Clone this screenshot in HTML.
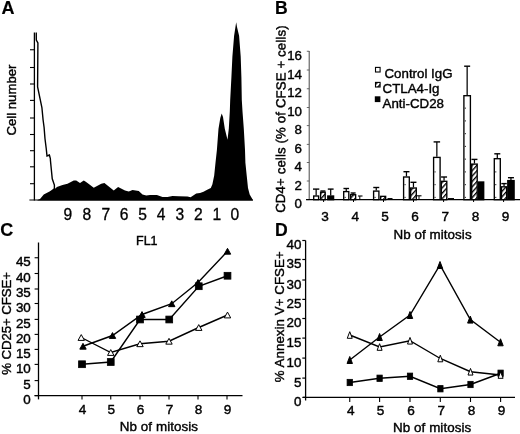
<!DOCTYPE html>
<html><head><meta charset="utf-8"><title>Figure</title>
<style>
html,body{margin:0;padding:0;background:#fff;}
svg{display:block;}
text{font-family:"Liberation Sans", Arial, Helvetica, sans-serif;fill:#000;stroke:#000;stroke-width:0.4px;}
</style></head><body>
<svg width="520" height="434" viewBox="0 0 520 434">
<defs><pattern id="hatch" width="3.6" height="3.6" patternUnits="userSpaceOnUse" patternTransform="rotate(-48)"><rect width="3.6" height="3.6" fill="#fff"/><rect width="3.6" height="1.35" fill="#000"/></pattern></defs>
<rect width="520" height="434" fill="#fff"/>
<!-- Panel A -->
<text x="1.5" y="13.9" font-size="18" text-anchor="start" font-weight="bold" style="stroke-width:0.15px">A</text>
<text x="15.6" y="135.6" font-size="13.2" text-anchor="start" font-weight="normal" transform="rotate(-90 15.6 135.6)">Cell number</text>
<line x1="34.4" y1="32.5" x2="34.4" y2="200.5" stroke="#000" stroke-width="1.3"/>
<line x1="30" y1="49.75" x2="34.4" y2="49.75" stroke="#000" stroke-width="1.1"/>
<line x1="30" y1="67.5" x2="34.4" y2="67.5" stroke="#000" stroke-width="1.1"/>
<line x1="30" y1="84" x2="34.4" y2="84" stroke="#000" stroke-width="1.1"/>
<line x1="30" y1="100.4" x2="34.4" y2="100.4" stroke="#000" stroke-width="1.1"/>
<line x1="30" y1="118" x2="34.4" y2="118" stroke="#000" stroke-width="1.1"/>
<line x1="30" y1="134.5" x2="34.4" y2="134.5" stroke="#000" stroke-width="1.1"/>
<line x1="30" y1="150.7" x2="34.4" y2="150.7" stroke="#000" stroke-width="1.1"/>
<line x1="30" y1="166.8" x2="34.4" y2="166.8" stroke="#000" stroke-width="1.1"/>
<line x1="30" y1="183.7" x2="34.4" y2="183.7" stroke="#000" stroke-width="1.1"/>
<line x1="29.4" y1="200" x2="253" y2="200" stroke="#000" stroke-width="1"/>
<polyline fill="none" stroke="#000" stroke-width="1.4" points="36.25,32.5 36.3,40 37.9,43 37.6,87 41.9,107.5 43.1,120 44.1,127.5 45,138.75 46.25,148.75 47,156 49.4,155 50.4,158.75 50.4,160 51.25,168.75 52.25,178.75 54.4,185 54.4,189"/>
<polygon fill="#000" points="37.5,200 40,199 43.75,194.4 50,191.25 54.4,188 55.5,188.6 56.9,186.9 62.5,185 67.5,183.75 73.75,180.4 76.25,180.5 80,183 83.75,180.6 85,181.25 87.5,183 93.75,187.75 101.25,183.75 104.4,183.1 113.75,190.6 118.1,186.9 125,190.6 128.75,191.5 132.5,190 138.75,191 142.5,194.4 146.25,195.6 150,195 156.9,195 162.5,197.1 167.5,197.1 172.5,195.9 178.75,196.25 187.5,196.6 190.6,197.25 196.25,193.5 200,193.0 203.5,191.8 207.2,189.7 210.8,188 212.4,184.25 214.2,175.4 215.5,162.7 216.9,150 218.5,128.8 220.3,118 221.7,113.6 223,117 224.8,128.8 227.5,139.8 228.8,128.8 229.8,111.5 230.2,100 231.4,77.2 232.4,56.5 234.1,35.7 235.6,26 236.2,22.2 237,27 239.1,35.7 240.7,56.5 241.4,77.2 241.8,100 242.5,111.5 243.8,128.8 245,150 245.4,162.7 246.7,175.4 248,188 249.7,194.4 252.6,199.5 253,200.4 37.5,200.4"/>
<text x="67.8" y="219.9" font-size="15.6" text-anchor="middle" font-weight="normal" style="stroke-width:0.3px">9</text>
<text x="86.9" y="219.9" font-size="15.6" text-anchor="middle" font-weight="normal" style="stroke-width:0.3px">8</text>
<text x="105.8" y="219.9" font-size="15.6" text-anchor="middle" font-weight="normal" style="stroke-width:0.3px">7</text>
<text x="124.2" y="219.9" font-size="15.6" text-anchor="middle" font-weight="normal" style="stroke-width:0.3px">6</text>
<text x="142.7" y="219.9" font-size="15.6" text-anchor="middle" font-weight="normal" style="stroke-width:0.3px">5</text>
<text x="161.0" y="219.9" font-size="15.6" text-anchor="middle" font-weight="normal" style="stroke-width:0.3px">4</text>
<text x="179.9" y="219.9" font-size="15.6" text-anchor="middle" font-weight="normal" style="stroke-width:0.3px">3</text>
<text x="198.4" y="219.9" font-size="15.6" text-anchor="middle" font-weight="normal" style="stroke-width:0.3px">2</text>
<text x="216.9" y="219.9" font-size="15.6" text-anchor="middle" font-weight="normal" style="stroke-width:0.3px">1</text>
<text x="234.8" y="219.9" font-size="15.6" text-anchor="middle" font-weight="normal" style="stroke-width:0.3px">0</text>
<!-- Panel B -->
<text x="275.0" y="13.8" font-size="17.6" text-anchor="start" font-weight="bold" style="stroke-width:0.15px">B</text>
<text x="285.0" y="212.8" font-size="13.2" text-anchor="start" font-weight="normal" transform="rotate(-89.8 285.0 212.8)" textLength="187.4">CD4+ cells (% of CFSE + cells)</text>
<line x1="309.2" y1="51" x2="309.2" y2="199.4" stroke="#333" stroke-width="0.9"/>
<line x1="306.8" y1="51.25" x2="309.2" y2="51.25" stroke="#444" stroke-width="0.8"/>
<text x="302.0" y="59.95" font-size="13.3" text-anchor="end" font-weight="normal">16</text>
<line x1="306.8" y1="70" x2="309.2" y2="70" stroke="#444" stroke-width="0.8"/>
<text x="302.0" y="78.7" font-size="13.3" text-anchor="end" font-weight="normal">14</text>
<line x1="306.8" y1="88.75" x2="309.2" y2="88.75" stroke="#444" stroke-width="0.8"/>
<text x="302.0" y="97.45" font-size="13.3" text-anchor="end" font-weight="normal">12</text>
<line x1="306.8" y1="107.5" x2="309.2" y2="107.5" stroke="#444" stroke-width="0.8"/>
<text x="302.0" y="116.2" font-size="13.3" text-anchor="end" font-weight="normal">10</text>
<line x1="306.8" y1="125.6" x2="309.2" y2="125.6" stroke="#444" stroke-width="0.8"/>
<text x="302.0" y="134.29999999999998" font-size="13.3" text-anchor="end" font-weight="normal">8</text>
<line x1="306.8" y1="144.4" x2="309.2" y2="144.4" stroke="#444" stroke-width="0.8"/>
<text x="302.0" y="153.1" font-size="13.3" text-anchor="end" font-weight="normal">6</text>
<line x1="306.8" y1="162.5" x2="309.2" y2="162.5" stroke="#444" stroke-width="0.8"/>
<text x="302.0" y="171.2" font-size="13.3" text-anchor="end" font-weight="normal">4</text>
<line x1="306.8" y1="181" x2="309.2" y2="181" stroke="#444" stroke-width="0.8"/>
<text x="302.0" y="189.7" font-size="13.3" text-anchor="end" font-weight="normal">2</text>
<line x1="306.8" y1="199.6" x2="309.2" y2="199.6" stroke="#444" stroke-width="0.8"/>
<text x="302.0" y="208.29999999999998" font-size="13.3" text-anchor="end" font-weight="normal">0</text>
<line x1="306" y1="199.7" x2="520" y2="199.7" stroke="#000" stroke-width="1.25"/>
<line x1="323.6" y1="199.7" x2="323.6" y2="202" stroke="#000" stroke-width="1"/>
<line x1="353.5" y1="199.7" x2="353.5" y2="202" stroke="#000" stroke-width="1"/>
<line x1="383.5" y1="199.7" x2="383.5" y2="202" stroke="#000" stroke-width="1"/>
<line x1="413.5" y1="199.7" x2="413.5" y2="202" stroke="#000" stroke-width="1"/>
<line x1="443.6" y1="199.7" x2="443.6" y2="202" stroke="#000" stroke-width="1"/>
<line x1="473.6" y1="199.7" x2="473.6" y2="202" stroke="#000" stroke-width="1"/>
<line x1="503.6" y1="199.7" x2="503.6" y2="202" stroke="#000" stroke-width="1"/>
<text x="325.0" y="220.9" font-size="13.6" text-anchor="middle" font-weight="normal">3</text>
<text x="355.2" y="220.9" font-size="13.6" text-anchor="middle" font-weight="normal">4</text>
<text x="385.0" y="220.9" font-size="13.6" text-anchor="middle" font-weight="normal">5</text>
<text x="415.1" y="220.9" font-size="13.6" text-anchor="middle" font-weight="normal">6</text>
<text x="445.2" y="220.9" font-size="13.6" text-anchor="middle" font-weight="normal">7</text>
<text x="475.6" y="220.9" font-size="13.6" text-anchor="middle" font-weight="normal">8</text>
<text x="505.6" y="220.9" font-size="13.6" text-anchor="middle" font-weight="normal">9</text>
<text x="393.4" y="238.6" font-size="13.4" text-anchor="start" font-weight="normal" textLength="78.2">Nb of mitosis</text>
<line x1="316.15" y1="189.1" x2="316.15" y2="195.4" stroke="#000" stroke-width="1.25"/>
<line x1="313.0" y1="189.1" x2="319.29999999999995" y2="189.1" stroke="#000" stroke-width="1.4"/>
<rect x="313.70000000000005" y="196.0" width="4.899999999999966" height="3.699999999999983" fill="#fff" stroke="#000" stroke-width="1.35"/>
<line x1="322.9" y1="191.0" x2="322.9" y2="191.6" stroke="#000" stroke-width="1.25"/>
<line x1="320.4" y1="191.0" x2="325.4" y2="191.0" stroke="#000" stroke-width="1.4"/>
<rect x="320.6" y="192.2" width="4.600000000000011" height="7.499999999999995" fill="url(#hatch)" stroke="#000" stroke-width="1.35"/>
<line x1="330.7" y1="189.1" x2="330.7" y2="195.4" stroke="#000" stroke-width="1.25"/>
<line x1="327.8" y1="189.1" x2="333.59999999999997" y2="189.1" stroke="#000" stroke-width="1.4"/>
<rect x="327.8" y="196.0" width="5.8" height="3.699999999999983" fill="#000" stroke="#000" stroke-width="1.35"/>
<line x1="346.25" y1="188.5" x2="346.25" y2="191" stroke="#000" stroke-width="1.25"/>
<line x1="343.45" y1="188.5" x2="349.05" y2="188.5" stroke="#000" stroke-width="1.4"/>
<rect x="343.70000000000005" y="191.6" width="5.099999999999954" height="8.099999999999989" fill="#fff" stroke="#000" stroke-width="1.35"/>
<rect x="344.6" y="196.85" width="1.1" height="1.1" fill="#222"/>
<line x1="353.125" y1="193" x2="353.125" y2="194.1" stroke="#000" stroke-width="1.25"/>
<line x1="350.625" y1="193" x2="355.625" y2="193" stroke="#000" stroke-width="1.4"/>
<rect x="350.6" y="194.7" width="5.05" height="4.999999999999995" fill="url(#hatch)" stroke="#000" stroke-width="1.35"/>
<line x1="359.8" y1="196" x2="359.8" y2="199.4" stroke="#000" stroke-width="1"/>
<line x1="358" y1="196" x2="362.5" y2="196" stroke="#000" stroke-width="1.1"/>
<line x1="376.25" y1="187.5" x2="376.25" y2="190.5" stroke="#000" stroke-width="1.25"/>
<line x1="373.25" y1="187.5" x2="379.25" y2="187.5" stroke="#000" stroke-width="1.4"/>
<rect x="373.6" y="191.1" width="5.3" height="8.599999999999989" fill="#fff" stroke="#000" stroke-width="1.35"/>
<rect x="374.5" y="196.85" width="1.1" height="1.1" fill="#222"/>
<rect x="380.6" y="196.35" width="5.05" height="3.3499999999999885" fill="url(#hatch)" stroke="#000" stroke-width="1.35"/>
<line x1="387.5" y1="198.6" x2="392.5" y2="198.6" stroke="#000" stroke-width="1.1"/>
<line x1="406.45" y1="171.7" x2="406.45" y2="176.4" stroke="#000" stroke-width="1.25"/>
<line x1="403.45" y1="171.7" x2="409.45" y2="171.7" stroke="#000" stroke-width="1.4"/>
<rect x="403.6" y="177.0" width="5.699999999999977" height="22.69999999999998" fill="#fff" stroke="#000" stroke-width="1.35"/>
<rect x="404.5" y="196.85" width="1.1" height="1.1" fill="#222"/>
<rect x="404.5" y="184.1" width="1.1" height="1.1" fill="#222"/>
<line x1="413.45" y1="182.3" x2="413.45" y2="187.4" stroke="#000" stroke-width="1.25"/>
<line x1="410.45" y1="182.3" x2="416.45" y2="182.3" stroke="#000" stroke-width="1.4"/>
<rect x="410.6" y="188.0" width="5.699999999999977" height="11.699999999999983" fill="url(#hatch)" stroke="#000" stroke-width="1.35"/>
<line x1="419" y1="195.8" x2="419" y2="199.4" stroke="#000" stroke-width="1"/>
<line x1="417" y1="195.8" x2="421.5" y2="195.8" stroke="#000" stroke-width="1.1"/>
<line x1="436.85" y1="141.9" x2="436.85" y2="156.8" stroke="#000" stroke-width="1.25"/>
<line x1="433.6" y1="141.9" x2="440.1" y2="141.9" stroke="#000" stroke-width="1.4"/>
<rect x="433.6" y="157.4" width="6.4999999999999885" height="42.299999999999976" fill="#fff" stroke="#000" stroke-width="1.35"/>
<rect x="434.5" y="196.85" width="1.1" height="1.1" fill="#222"/>
<rect x="434.5" y="184.1" width="1.1" height="1.1" fill="#222"/>
<rect x="434.5" y="171.35" width="1.1" height="1.1" fill="#222"/>
<line x1="444.04999999999995" y1="177" x2="444.04999999999995" y2="180.7" stroke="#000" stroke-width="1.25"/>
<line x1="441.04999999999995" y1="177" x2="447.04999999999995" y2="177" stroke="#000" stroke-width="1.4"/>
<rect x="441.3" y="181.29999999999998" width="5.4999999999999885" height="18.4" fill="url(#hatch)" stroke="#000" stroke-width="1.35"/>
<line x1="448" y1="198.6" x2="454" y2="198.6" stroke="#000" stroke-width="1.1"/>
<line x1="467.15" y1="66.2" x2="467.15" y2="95.1" stroke="#000" stroke-width="1.25"/>
<line x1="464.15" y1="66.2" x2="470.15" y2="66.2" stroke="#000" stroke-width="1.4"/>
<rect x="463.90000000000003" y="95.69999999999999" width="6.4999999999999885" height="104.0" fill="#fff" stroke="#000" stroke-width="1.35"/>
<rect x="464.8" y="196.85" width="1.1" height="1.1" fill="#222"/>
<rect x="464.8" y="184.1" width="1.1" height="1.1" fill="#222"/>
<rect x="464.8" y="171.35" width="1.1" height="1.1" fill="#222"/>
<rect x="464.8" y="158.6" width="1.1" height="1.1" fill="#222"/>
<rect x="464.8" y="145.85" width="1.1" height="1.1" fill="#222"/>
<rect x="464.8" y="133.1" width="1.1" height="1.1" fill="#222"/>
<rect x="464.8" y="120.35" width="1.1" height="1.1" fill="#222"/>
<rect x="464.8" y="107.6" width="1.1" height="1.1" fill="#222"/>
<line x1="474.45000000000005" y1="159.4" x2="474.45000000000005" y2="163.5" stroke="#000" stroke-width="1.25"/>
<line x1="471.45000000000005" y1="159.4" x2="477.45000000000005" y2="159.4" stroke="#000" stroke-width="1.4"/>
<rect x="471.70000000000005" y="164.1" width="5.4999999999999885" height="35.59999999999999" fill="url(#hatch)" stroke="#000" stroke-width="1.35"/>
<rect x="478.40000000000003" y="182.0" width="5.3" height="17.69999999999998" fill="#000" stroke="#000" stroke-width="1.35"/>
<line x1="497.29999999999995" y1="153.8" x2="497.29999999999995" y2="158.1" stroke="#000" stroke-width="1.25"/>
<line x1="494.29999999999995" y1="153.8" x2="500.29999999999995" y2="153.8" stroke="#000" stroke-width="1.4"/>
<rect x="494.3" y="158.7" width="5.9999999999999885" height="40.99999999999999" fill="#fff" stroke="#000" stroke-width="1.35"/>
<rect x="495.2" y="196.85" width="1.1" height="1.1" fill="#222"/>
<rect x="495.2" y="184.1" width="1.1" height="1.1" fill="#222"/>
<rect x="495.2" y="171.35" width="1.1" height="1.1" fill="#222"/>
<line x1="504.04999999999995" y1="183.6" x2="504.04999999999995" y2="186.2" stroke="#000" stroke-width="1.25"/>
<line x1="501.29999999999995" y1="183.6" x2="506.79999999999995" y2="183.6" stroke="#000" stroke-width="1.4"/>
<rect x="501.5" y="186.79999999999998" width="5.100000000000011" height="12.9" fill="url(#hatch)" stroke="#000" stroke-width="1.35"/>
<line x1="510.95000000000005" y1="177.7" x2="510.95000000000005" y2="180" stroke="#000" stroke-width="1.25"/>
<line x1="507.95000000000005" y1="177.7" x2="513.95" y2="177.7" stroke="#000" stroke-width="1.4"/>
<rect x="507.8" y="180.6" width="6.300000000000057" height="19.099999999999987" fill="#000" stroke="#000" stroke-width="1.35"/>
<rect x="375.5" y="67.4" width="4.6" height="4.6" fill="#fff" stroke="#000" stroke-width="1.1"/>
<rect x="375.5" y="82.4" width="4.6" height="4.6" fill="url(#hatch)" stroke="#000" stroke-width="1.1"/>
<rect x="374.8" y="96.3" width="5.6" height="5.8" fill="#000"/>
<text x="384.5" y="77.7" font-size="13.3" text-anchor="start" font-weight="normal">Control IgG</text>
<text x="382.6" y="93.1" font-size="13.3" text-anchor="start" font-weight="normal">CTLA4-Ig</text>
<text x="382.6" y="107.9" font-size="13.3" text-anchor="start" font-weight="normal">Anti-CD28</text>
<!-- Panel C -->
<text x="0.3" y="236.1" font-size="18" text-anchor="start" font-weight="bold" style="stroke-width:0.15px">C</text>
<text x="10.7" y="374.8" font-size="13.3" text-anchor="start" font-weight="normal" transform="rotate(-90 10.7 374.8)" textLength="102.8">% CD25+ CFSE+</text>
<line x1="38.5" y1="242.5" x2="38.5" y2="399.4" stroke="#000" stroke-width="1.3"/>
<line x1="34.6" y1="257.75" x2="38.5" y2="257.75" stroke="#000" stroke-width="1.1"/>
<text x="30.8" y="266.15" font-size="13.4" text-anchor="end" font-weight="normal">45</text>
<line x1="34.6" y1="273.5" x2="38.5" y2="273.5" stroke="#000" stroke-width="1.1"/>
<text x="30.8" y="281.9" font-size="13.4" text-anchor="end" font-weight="normal">40</text>
<line x1="34.6" y1="289" x2="38.5" y2="289" stroke="#000" stroke-width="1.1"/>
<text x="30.8" y="297.4" font-size="13.4" text-anchor="end" font-weight="normal">35</text>
<line x1="34.6" y1="303.5" x2="38.5" y2="303.5" stroke="#000" stroke-width="1.1"/>
<text x="30.8" y="311.9" font-size="13.4" text-anchor="end" font-weight="normal">30</text>
<line x1="34.6" y1="319.4" x2="38.5" y2="319.4" stroke="#000" stroke-width="1.1"/>
<text x="30.8" y="327.79999999999995" font-size="13.4" text-anchor="end" font-weight="normal">25</text>
<line x1="34.6" y1="334.4" x2="38.5" y2="334.4" stroke="#000" stroke-width="1.1"/>
<text x="30.8" y="342.79999999999995" font-size="13.4" text-anchor="end" font-weight="normal">20</text>
<line x1="34.6" y1="349.4" x2="38.5" y2="349.4" stroke="#000" stroke-width="1.1"/>
<text x="30.8" y="357.79999999999995" font-size="13.4" text-anchor="end" font-weight="normal">15</text>
<line x1="34.6" y1="364.4" x2="38.5" y2="364.4" stroke="#000" stroke-width="1.1"/>
<text x="30.8" y="372.79999999999995" font-size="13.4" text-anchor="end" font-weight="normal">10</text>
<line x1="34.6" y1="380.6" x2="38.5" y2="380.6" stroke="#000" stroke-width="1.1"/>
<text x="30.8" y="389.0" font-size="13.4" text-anchor="end" font-weight="normal">5</text>
<line x1="34.6" y1="395.6" x2="38.5" y2="395.6" stroke="#000" stroke-width="1.1"/>
<text x="30.8" y="404.0" font-size="13.4" text-anchor="end" font-weight="normal">0</text>
<line x1="34.6" y1="395.6" x2="242.5" y2="395.6" stroke="#000" stroke-width="1.3"/>
<line x1="82" y1="395.6" x2="82" y2="399.5" stroke="#000" stroke-width="1.1"/>
<text x="82.5" y="413.8" font-size="13.6" text-anchor="middle" font-weight="normal">4</text>
<line x1="110.75" y1="395.6" x2="110.75" y2="399.5" stroke="#000" stroke-width="1.1"/>
<text x="111.25" y="413.8" font-size="13.6" text-anchor="middle" font-weight="normal">5</text>
<line x1="140" y1="395.6" x2="140" y2="399.5" stroke="#000" stroke-width="1.1"/>
<text x="140.5" y="413.8" font-size="13.6" text-anchor="middle" font-weight="normal">6</text>
<line x1="169" y1="395.6" x2="169" y2="399.5" stroke="#000" stroke-width="1.1"/>
<text x="169.5" y="413.8" font-size="13.6" text-anchor="middle" font-weight="normal">7</text>
<line x1="198" y1="395.6" x2="198" y2="399.5" stroke="#000" stroke-width="1.1"/>
<text x="198.5" y="413.8" font-size="13.6" text-anchor="middle" font-weight="normal">8</text>
<line x1="227" y1="395.6" x2="227" y2="399.5" stroke="#000" stroke-width="1.1"/>
<text x="227.5" y="413.8" font-size="13.6" text-anchor="middle" font-weight="normal">9</text>
<text x="119.8" y="431.3" font-size="13.4" text-anchor="start" font-weight="normal" textLength="78.2">Nb of mitosis</text>
<text x="136" y="245" font-size="12.5" text-anchor="start" font-weight="normal">FL1</text>
<polyline fill="none" stroke="#000" stroke-width="1.4" points="83,346.25 112.5,335.5 142,314.5 171.75,303.75 198,282.5 227.5,251.25"/>
<polyline fill="none" stroke="#000" stroke-width="1.4" points="82,364.25 110.75,362 140,319.5 169.25,319.5 198.75,286.25 227.5,275.75"/>
<polyline fill="none" stroke="#000" stroke-width="1.4" points="81.25,337.5 110.75,352.5 140,343.75 169,341.25 198.75,327.5 227.5,315"/>
<polygon points="81.25,334.6 78.05,340.4 84.45,340.4" fill="#fff" stroke="#000" stroke-width="1"/>
<polygon points="110.75,349.6 107.55,355.4 113.95,355.4" fill="#fff" stroke="#000" stroke-width="1"/>
<polygon points="140,340.85 136.8,346.65 143.2,346.65" fill="#fff" stroke="#000" stroke-width="1"/>
<polygon points="169,338.35 165.8,344.15 172.2,344.15" fill="#fff" stroke="#000" stroke-width="1"/>
<polygon points="198.75,324.6 195.55,330.4 201.95,330.4" fill="#fff" stroke="#000" stroke-width="1"/>
<polygon points="227.5,312.1 224.3,317.9 230.7,317.9" fill="#fff" stroke="#000" stroke-width="1"/>
<polygon points="83,343.35 79.8,349.15 86.2,349.15" fill="#000" stroke="#000" stroke-width="1"/>
<polygon points="112.5,332.6 109.3,338.4 115.7,338.4" fill="#000" stroke="#000" stroke-width="1"/>
<polygon points="142,311.6 138.8,317.4 145.2,317.4" fill="#000" stroke="#000" stroke-width="1"/>
<polygon points="171.75,300.85 168.55,306.65 174.95,306.65" fill="#000" stroke="#000" stroke-width="1"/>
<polygon points="198,279.6 194.8,285.4 201.2,285.4" fill="#000" stroke="#000" stroke-width="1"/>
<polygon points="227.5,248.35 224.3,254.15 230.7,254.15" fill="#000" stroke="#000" stroke-width="1"/>
<rect x="78.6" y="360.85" width="6.8" height="6.8" fill="#000" stroke="#000" stroke-width="0.8"/>
<rect x="107.35" y="358.6" width="6.8" height="6.8" fill="#000" stroke="#000" stroke-width="0.8"/>
<rect x="136.6" y="316.1" width="6.8" height="6.8" fill="#000" stroke="#000" stroke-width="0.8"/>
<rect x="165.85" y="316.1" width="6.8" height="6.8" fill="#000" stroke="#000" stroke-width="0.8"/>
<rect x="195.35" y="282.85" width="6.8" height="6.8" fill="#000" stroke="#000" stroke-width="0.8"/>
<rect x="224.1" y="272.35" width="6.8" height="6.8" fill="#000" stroke="#000" stroke-width="0.8"/>
<!-- Panel D -->
<text x="274.9" y="235.7" font-size="17.6" text-anchor="start" font-weight="bold" style="stroke-width:0.15px">D</text>
<text x="283.7" y="382.3" font-size="13.3" text-anchor="start" font-weight="normal" transform="rotate(-90 283.7 382.3)" textLength="131">% Annexin V+ CFSE+</text>
<line x1="305.6" y1="240.5" x2="305.6" y2="400.5" stroke="#000" stroke-width="1.3"/>
<line x1="302.3" y1="240.5" x2="305.6" y2="240.5" stroke="#000" stroke-width="1.2"/>
<text x="301.5" y="249.4" font-size="13.4" text-anchor="end" font-weight="normal">40</text>
<line x1="302.3" y1="259.5" x2="305.6" y2="259.5" stroke="#000" stroke-width="1.2"/>
<text x="301.5" y="268.4" font-size="13.4" text-anchor="end" font-weight="normal">35</text>
<line x1="302.3" y1="280" x2="305.6" y2="280" stroke="#000" stroke-width="1.2"/>
<text x="301.5" y="288.9" font-size="13.4" text-anchor="end" font-weight="normal">30</text>
<line x1="302.3" y1="299.4" x2="305.6" y2="299.4" stroke="#000" stroke-width="1.2"/>
<text x="301.5" y="308.29999999999995" font-size="13.4" text-anchor="end" font-weight="normal">25</text>
<line x1="302.3" y1="318.5" x2="305.6" y2="318.5" stroke="#000" stroke-width="1.2"/>
<text x="301.5" y="327.4" font-size="13.4" text-anchor="end" font-weight="normal">20</text>
<line x1="302.3" y1="338.1" x2="305.6" y2="338.1" stroke="#000" stroke-width="1.2"/>
<text x="301.5" y="347.0" font-size="13.4" text-anchor="end" font-weight="normal">15</text>
<line x1="302.3" y1="358.1" x2="305.6" y2="358.1" stroke="#000" stroke-width="1.2"/>
<text x="301.5" y="367.0" font-size="13.4" text-anchor="end" font-weight="normal">10</text>
<line x1="302.3" y1="378.1" x2="305.6" y2="378.1" stroke="#000" stroke-width="1.2"/>
<text x="301.5" y="387.0" font-size="13.4" text-anchor="end" font-weight="normal">5</text>
<line x1="302.3" y1="397.4" x2="305.6" y2="397.4" stroke="#000" stroke-width="1.2"/>
<text x="301.5" y="406.29999999999995" font-size="13.4" text-anchor="end" font-weight="normal">0</text>
<line x1="303" y1="397.4" x2="515" y2="397.4" stroke="#000" stroke-width="1.3"/>
<line x1="349.75" y1="397.4" x2="349.75" y2="402" stroke="#000" stroke-width="1.1"/>
<text x="350.75" y="415.1" font-size="13.6" text-anchor="middle" font-weight="normal">4</text>
<line x1="379.6" y1="397.4" x2="379.6" y2="402" stroke="#000" stroke-width="1.1"/>
<text x="380.6" y="415.1" font-size="13.6" text-anchor="middle" font-weight="normal">5</text>
<line x1="410" y1="397.4" x2="410" y2="402" stroke="#000" stroke-width="1.1"/>
<text x="411.0" y="415.1" font-size="13.6" text-anchor="middle" font-weight="normal">6</text>
<line x1="440.3" y1="397.4" x2="440.3" y2="402" stroke="#000" stroke-width="1.1"/>
<text x="441.3" y="415.1" font-size="13.6" text-anchor="middle" font-weight="normal">7</text>
<line x1="470.5" y1="397.4" x2="470.5" y2="402" stroke="#000" stroke-width="1.1"/>
<text x="471.5" y="415.1" font-size="13.6" text-anchor="middle" font-weight="normal">8</text>
<line x1="500.6" y1="397.4" x2="500.6" y2="402" stroke="#000" stroke-width="1.1"/>
<text x="501.6" y="415.1" font-size="13.6" text-anchor="middle" font-weight="normal">9</text>
<text x="392.9" y="432" font-size="13.4" text-anchor="start" font-weight="normal" textLength="78.4">Nb of mitosis</text>
<polyline fill="none" stroke="#000" stroke-width="1.4" points="349.75,360 379.6,337 410,315 440,265 470.3,319.6 500.5,342.3"/>
<polyline fill="none" stroke="#000" stroke-width="1.4" points="349.75,335 379.6,347 410,340.75 440.3,358.5 470.5,371.75 500.6,375"/>
<polyline fill="none" stroke="#000" stroke-width="1.4" points="349.75,382.5 379.6,378.25 410,376.25 440.4,388.75 470.5,384.5 500.6,373.25"/>
<rect x="347.1" y="379.35" width="5.3" height="6.3" fill="#000" stroke="#000" stroke-width="0.8"/>
<rect x="376.95000000000005" y="375.1" width="5.3" height="6.3" fill="#000" stroke="#000" stroke-width="0.8"/>
<rect x="407.35" y="373.1" width="5.3" height="6.3" fill="#000" stroke="#000" stroke-width="0.8"/>
<rect x="437.75" y="385.6" width="5.3" height="6.3" fill="#000" stroke="#000" stroke-width="0.8"/>
<rect x="467.85" y="381.35" width="5.3" height="6.3" fill="#000" stroke="#000" stroke-width="0.8"/>
<rect x="497.95000000000005" y="370.1" width="5.3" height="6.3" fill="#000" stroke="#000" stroke-width="0.8"/>
<polygon points="349.75,331.7 347.25,338.3 352.25,338.3" fill="#fff" stroke="#000" stroke-width="1"/>
<polygon points="379.6,343.7 377.1,350.3 382.1,350.3" fill="#fff" stroke="#000" stroke-width="1"/>
<polygon points="410,337.45 407.5,344.05 412.5,344.05" fill="#fff" stroke="#000" stroke-width="1"/>
<polygon points="440.3,355.2 437.8,361.8 442.8,361.8" fill="#fff" stroke="#000" stroke-width="1"/>
<polygon points="470.5,368.45 468.0,375.05 473.0,375.05" fill="#fff" stroke="#000" stroke-width="1"/>
<polygon points="500.6,371.7 498.1,378.3 503.1,378.3" fill="#fff" stroke="#000" stroke-width="1"/>
<polygon points="349.75,356.5 347.05,363.5 352.45,363.5" fill="#000" stroke="#000" stroke-width="1"/>
<polygon points="379.6,333.5 376.90000000000003,340.5 382.3,340.5" fill="#000" stroke="#000" stroke-width="1"/>
<polygon points="410,311.5 407.3,318.5 412.7,318.5" fill="#000" stroke="#000" stroke-width="1"/>
<polygon points="440,261.5 437.3,268.5 442.7,268.5" fill="#000" stroke="#000" stroke-width="1"/>
<polygon points="470.3,316.1 467.6,323.1 473.0,323.1" fill="#000" stroke="#000" stroke-width="1"/>
<polygon points="500.5,338.8 497.8,345.8 503.2,345.8" fill="#000" stroke="#000" stroke-width="1"/>
</svg>
</body></html>
